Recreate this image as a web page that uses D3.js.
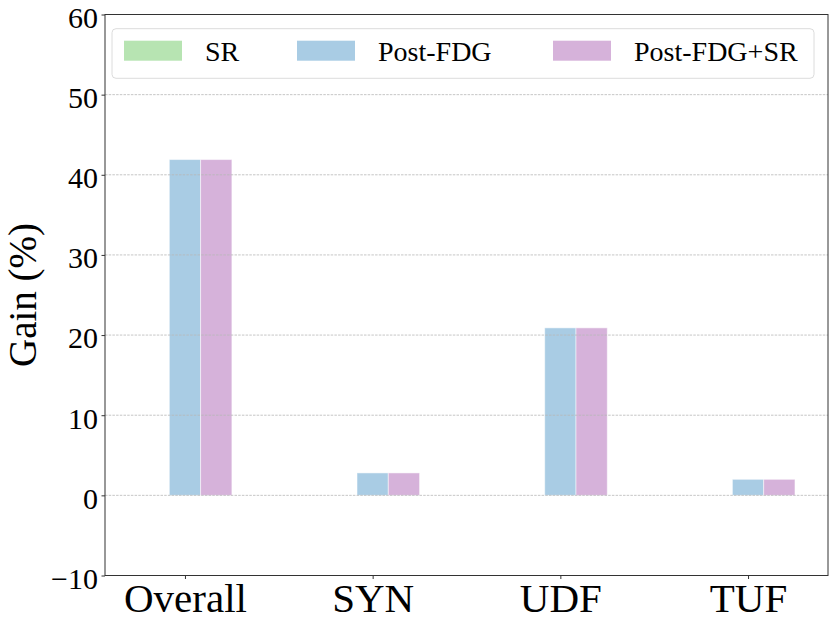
<!DOCTYPE html>
<html>
<head>
<meta charset="utf-8">
<script src="https://cdn.jsdelivr.net/npm/d3@7"></script>
<style>
  body { margin: 0; background: #fff; }
</style>
</head>
<body>
<svg width="830" height="623"></svg>
<script>
// chart values
const categories = ['Overall', 'SYN', 'UDF', 'TUF'];
const seriesNames = ['SR', 'Post-FDG', 'Post-FDG+SR'];
const srValues = [0, 0, 0, 0];
const postFdgValues = [41.9, 2.8, 20.9, 2.0];
const postFdgSrValues = [41.9, 2.8, 20.9, 2.0];
const yTicks = [-10, 0, 10, 20, 30, 40, 50, 60];
const colors = ['#b7e4b2', '#a9cce4', '#d6b2da'];

const series = [srValues, postFdgValues, postFdgSrValues];
const serif = "Liberation Serif, Times New Roman, Times, Tinos, Nimbus Roman, FreeSerif, Noto Serif, DejaVu Serif, serif";

const margin = { top: 14.5, right: 2, bottom: 47.5, left: 105 };
const width = 830 - margin.left - margin.right;
const height = 623 - margin.top - margin.bottom;

const svg = d3.select('svg')
    .attr('font-family', serif)
    .append('g')
    .attr('transform', `translate(${margin.left},${margin.top})`);

// scales
const x = d3.scalePoint()
    .domain(categories)
    .range([0, width])
    .padding(0.426);

const y = d3.scaleLinear()
    .domain([-10, 60])
    .range([height, 0]);

const barW = x.step() * 0.5 / 3;

// bars
series.forEach((vals, i) => {
    svg.append('g')
        .selectAll('rect')
        .data(vals.map((v, j) => ({ cat: categories[j], v })))
        .enter().append('rect')
        .attr('x', d => x(d.cat) + (i - 1) * barW - barW / 2)
        .attr('y', d => y(Math.max(0, d.v)))
        .attr('width', barW)
        .attr('height', d => Math.abs(y(d.v) - y(0)))
        .attr('fill', colors[i])
        .attr('stroke', d => d.v === 0 ? 'none' : 'rgba(255,255,255,0.5)')
        .attr('stroke-width', 1);
});

// grid (drawn above bars)
svg.append('g')
    .selectAll('line')
    .data(yTicks.filter(t => t > -10 && t < 60))
    .enter().append('line')
    .attr('x1', 0)
    .attr('x2', width)
    .attr('y1', d => y(d))
    .attr('y2', d => y(d))
    .attr('stroke', '#b8b8b8')
    .attr('stroke-opacity', 0.8)
    .attr('stroke-width', 1)
    .attr('stroke-dasharray', '2.5,1.2');

// frame
svg.append('rect')
    .attr('x', 0)
    .attr('y', 0)
    .attr('width', width)
    .attr('height', height)
    .attr('fill', 'none')
    .attr('stroke', '#333')
    .attr('stroke-width', 1);

// x axis
const xAxis = svg.append('g')
    .attr('transform', `translate(0,${height})`)
    .call(d3.axisBottom(x).tickSize(3.5).tickPadding(4));
xAxis.attr('font-family', serif);
xAxis.select('.domain').remove();
xAxis.selectAll('line').attr('stroke', '#333');
xAxis.selectAll('text')
    .style('font-size', '41px')
    .attr('fill', '#000')
    .attr('dy', '0.71em')
    .attr('y', 7);

// y axis
const yAxis = svg.append('g')
    .call(d3.axisLeft(y).tickValues(yTicks).tickSize(3.5).tickPadding(3.5)
        .tickFormat(d => d < 0 ? '\u2212' + Math.abs(d) : d));
yAxis.attr('font-family', serif);
yAxis.select('.domain').remove();
yAxis.selectAll('line').attr('stroke', '#333');
yAxis.selectAll('text')
    .style('font-size', '30px')
    .attr('dy', '0.43em')
    .attr('fill', '#000');

// y label
svg.append('text')
    .attr('transform', 'rotate(-90)')
    .attr('x', -height / 2)
    .attr('y', -margin.left + 36)
    .attr('text-anchor', 'middle')
    .style('font-size', '39px')
    .text('Gain (%)');

// legend
const legend = svg.append('g')
    .attr('transform', `translate(${112 - margin.left},${28.7 - margin.top})`);

legend.append('rect')
    .attr('width', 702)
    .attr('height', 49.6)
    .attr('rx', 4)
    .attr('fill', 'rgba(255,255,255,0.8)')
    .attr('stroke', '#dcdcdc')
    .attr('stroke-width', 1);

const legendX = [12, 185, 441];
const legendItem = legend.selectAll('.legend-item')
    .data(seriesNames)
    .enter().append('g')
    .attr('class', 'legend-item')
    .attr('transform', (d, i) => `translate(${legendX[i]},0)`);

legendItem.append('rect')
    .attr('y', 12)
    .attr('width', 58)
    .attr('height', 20)
    .attr('fill', (d, i) => colors[i]);

legendItem.append('text')
    .attr('x', 81)
    .attr('y', 32.3)
    .style('font-size', '28px')
    .text(d => d);
</script>
</body>
</html>
